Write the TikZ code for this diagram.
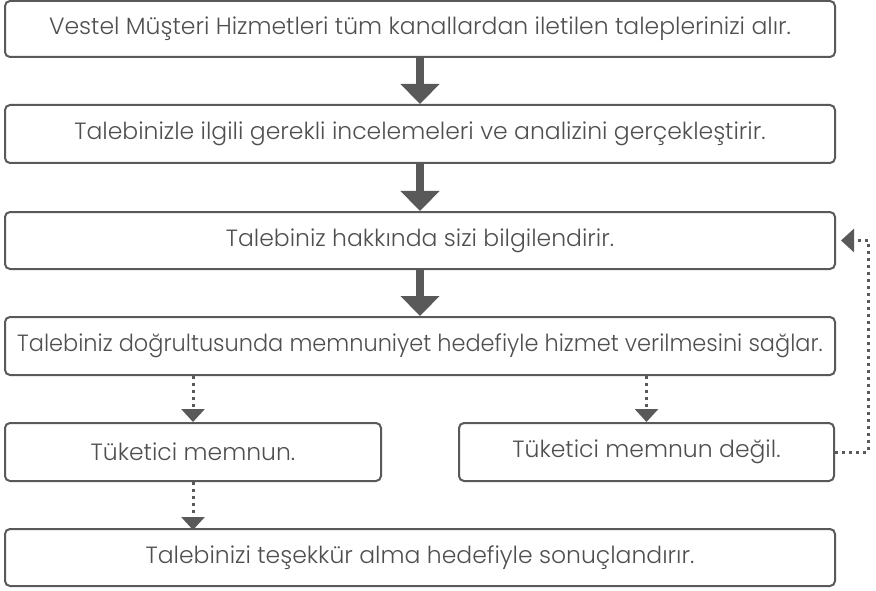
\documentclass[tikz,border=0pt]{standalone}
\usepackage{fontspec}
\setmainfont{Poppins Light}
\usetikzlibrary{arrows.meta}
\definecolor{ink}{HTML}{595959}
\definecolor{txt}{HTML}{4F4F4F}
\begin{document}
\begin{tikzpicture}[x=1pt,y=-1pt,
 box/.style={draw=ink, line width=2pt, rounded corners=5pt, inner sep=0pt, minimum height=56pt, text=txt, font=\fontsize{23.5}{26}\selectfont},
 wide/.style={box, minimum width=830pt},
 half/.style={box, minimum width=375pt},
 bigarrow/.style={draw=ink, line width=8pt, -{Triangle[width=38pt,length=20pt]}},
 dotarrow/.style={draw=ink, line width=3pt, dash pattern=on 3pt off 4pt, -{Triangle[width=23pt,length=13pt]}}]
\useasboundingbox (0,0) rectangle (876,591);
\node[wide] (b1) at (420,29) {Vestel Müşteri Hizmetleri tüm kanallardan iletilen taleplerinizi alır.};
\node[wide, minimum height=58pt] (b2) at (420,134) {Talebinizle ilgili gerekli incelemeleri ve analizini gerçekleştirir.};
\node[wide, minimum height=57pt] (b3) at (420,240.5) {Talebiniz hakkında sizi bilgilendirir.};
\node[wide, minimum height=58pt] (b4) at (420,346) {\scalebox{0.955}[1]{Talebiniz doğrultusunda memnuniyet hedefiyle hizmet verilmesini sağlar.}};
\node[half, minimum width=376pt, minimum height=58pt] (b5) at (193,452) {Tüketici memnun.};
\node[half, minimum height=58pt] (b6) at (646.5,452) {Tüketici memnun değil.};
\node[wide, minimum height=57pt] (b7) at (420,557.5) {Talebinizi teşekkür alma hedefiyle sonuçlandırır.};
\draw[bigarrow] (b1.south) -- (b2.north);
\draw[bigarrow] (b2.south) -- (b3.north);
\draw[bigarrow] (b3.south) -- (b4.north);
\draw[dotarrow] (b4.south -| b5.center) -- (b5.north);
\draw[dotarrow] (b4.south -| b6.center) -- (b6.north);
\draw[dotarrow] (b5.south) -- ([yshift=-2pt]b7.north -| b5.center);
\coordinate (fb1) at (868,452);
\coordinate (fb2) at (868,240.5);
\draw[dotarrow] (b6.east) -- (fb1) -- (fb2) -- ([xshift=5pt]b3.east);
\end{tikzpicture}
\end{document}
